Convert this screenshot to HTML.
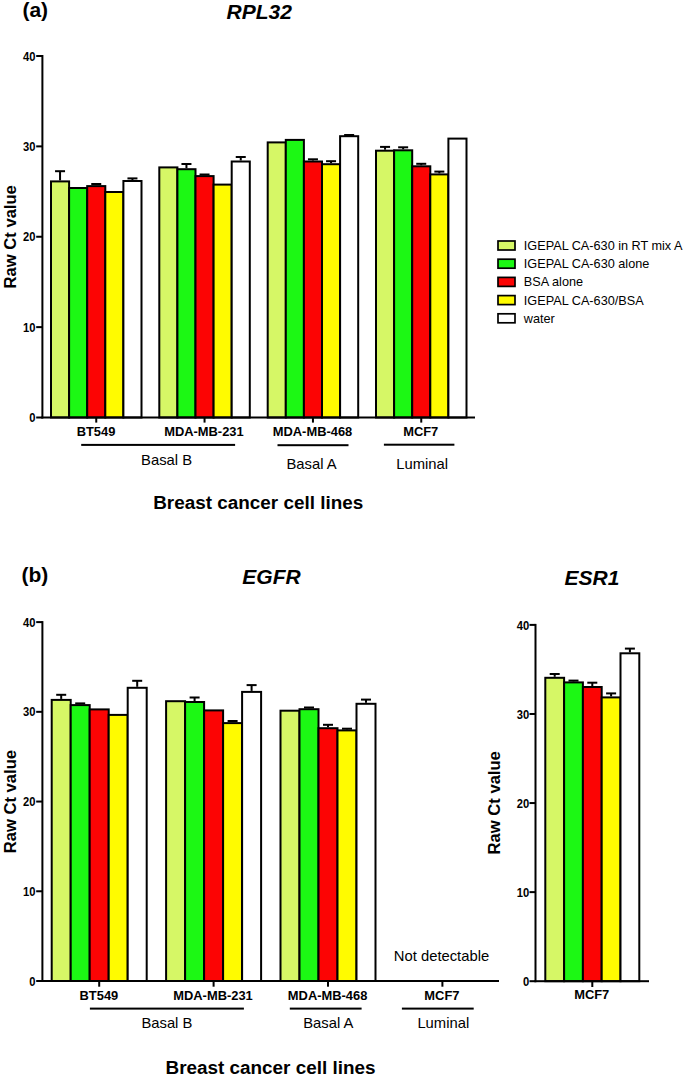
<!DOCTYPE html>
<html><head><meta charset="utf-8"><title>Raw Ct values</title>
<style>
html,body{margin:0;padding:0;background:#fff;width:685px;height:1076px;overflow:hidden;}
svg{display:block;font-family:"Liberation Sans", sans-serif;}
</style></head>
<body>
<svg width="685" height="1076" viewBox="0 0 685 1076">
<rect x="0" y="0" width="685" height="1076" fill="#fff"/>
<text x="22.40" y="17.10" font-size="21" font-weight="bold" font-style="normal" text-anchor="start" >(a)</text>
<text x="259.20" y="19.40" font-size="21" font-weight="bold" font-style="italic" text-anchor="middle" >RPL32</text>
<rect x="41.40" y="55.00" width="2.00" height="363.50" fill="#000"/>
<rect x="36.20" y="55.00" width="6.20" height="2.00" fill="#000"/>
<text transform="translate(35.50 60.60) scale(0.92 1)" font-size="12.2" font-weight="bold" text-anchor="end">40</text>
<rect x="36.20" y="145.38" width="6.20" height="2.00" fill="#000"/>
<text transform="translate(35.50 150.97) scale(0.92 1)" font-size="12.2" font-weight="bold" text-anchor="end">30</text>
<rect x="36.20" y="235.75" width="6.20" height="2.00" fill="#000"/>
<text transform="translate(35.50 241.35) scale(0.92 1)" font-size="12.2" font-weight="bold" text-anchor="end">20</text>
<rect x="36.20" y="326.12" width="6.20" height="2.00" fill="#000"/>
<text transform="translate(35.50 331.73) scale(0.92 1)" font-size="12.2" font-weight="bold" text-anchor="end">10</text>
<rect x="36.20" y="416.50" width="6.20" height="2.00" fill="#000"/>
<text transform="translate(35.50 422.10) scale(0.92 1)" font-size="12.2" font-weight="bold" text-anchor="end">0</text>
<rect x="59.05" y="171.20" width="2.00" height="9.20" fill="#000"/>
<rect x="55.05" y="170.20" width="10.00" height="2.00" fill="#000"/>
<rect x="51.00" y="181.40" width="18.10" height="236.10" fill="#d6f766" stroke="#000" stroke-width="2"/>
<rect x="69.10" y="188.00" width="18.10" height="229.50" fill="#1cf814" stroke="#000" stroke-width="2"/>
<rect x="95.25" y="184.00" width="2.00" height="1.10" fill="#000"/>
<rect x="91.25" y="183.00" width="10.00" height="2.00" fill="#000"/>
<rect x="87.20" y="186.10" width="18.10" height="231.40" fill="#fc0404" stroke="#000" stroke-width="2"/>
<rect x="105.30" y="192.00" width="18.10" height="225.50" fill="#fffb00" stroke="#000" stroke-width="2"/>
<rect x="131.45" y="178.40" width="2.00" height="1.60" fill="#000"/>
<rect x="127.45" y="177.40" width="10.00" height="2.00" fill="#000"/>
<rect x="123.40" y="181.00" width="18.10" height="236.50" fill="#ffffff" stroke="#000" stroke-width="2"/>
<rect x="159.30" y="167.40" width="18.10" height="250.10" fill="#d6f766" stroke="#000" stroke-width="2"/>
<rect x="185.45" y="164.00" width="2.00" height="4.20" fill="#000"/>
<rect x="181.45" y="163.00" width="10.00" height="2.00" fill="#000"/>
<rect x="177.40" y="169.20" width="18.10" height="248.30" fill="#1cf814" stroke="#000" stroke-width="2"/>
<rect x="203.55" y="174.50" width="2.00" height="0.60" fill="#000"/>
<rect x="199.55" y="173.50" width="10.00" height="2.00" fill="#000"/>
<rect x="195.50" y="176.10" width="18.10" height="241.40" fill="#fc0404" stroke="#000" stroke-width="2"/>
<rect x="213.60" y="184.60" width="18.10" height="232.90" fill="#fffb00" stroke="#000" stroke-width="2"/>
<rect x="239.75" y="157.00" width="2.00" height="3.50" fill="#000"/>
<rect x="235.75" y="156.00" width="10.00" height="2.00" fill="#000"/>
<rect x="231.70" y="161.50" width="18.10" height="256.00" fill="#ffffff" stroke="#000" stroke-width="2"/>
<rect x="267.70" y="142.40" width="18.10" height="275.10" fill="#d6f766" stroke="#000" stroke-width="2"/>
<rect x="285.80" y="139.90" width="18.10" height="277.60" fill="#1cf814" stroke="#000" stroke-width="2"/>
<rect x="311.95" y="159.30" width="2.00" height="1.20" fill="#000"/>
<rect x="307.95" y="158.30" width="10.00" height="2.00" fill="#000"/>
<rect x="303.90" y="161.50" width="18.10" height="256.00" fill="#fc0404" stroke="#000" stroke-width="2"/>
<rect x="330.05" y="161.20" width="2.00" height="2.00" fill="#000"/>
<rect x="326.05" y="160.20" width="10.00" height="2.00" fill="#000"/>
<rect x="322.00" y="164.20" width="18.10" height="253.30" fill="#fffb00" stroke="#000" stroke-width="2"/>
<rect x="348.15" y="135.00" width="2.00" height="0.20" fill="#000"/>
<rect x="344.15" y="134.00" width="10.00" height="2.00" fill="#000"/>
<rect x="340.10" y="136.20" width="18.10" height="281.30" fill="#ffffff" stroke="#000" stroke-width="2"/>
<rect x="384.05" y="146.90" width="2.00" height="2.80" fill="#000"/>
<rect x="380.05" y="145.90" width="10.00" height="2.00" fill="#000"/>
<rect x="376.00" y="150.70" width="18.10" height="266.80" fill="#d6f766" stroke="#000" stroke-width="2"/>
<rect x="402.15" y="147.30" width="2.00" height="2.00" fill="#000"/>
<rect x="398.15" y="146.30" width="10.00" height="2.00" fill="#000"/>
<rect x="394.10" y="150.30" width="18.10" height="267.20" fill="#1cf814" stroke="#000" stroke-width="2"/>
<rect x="420.25" y="163.80" width="2.00" height="1.50" fill="#000"/>
<rect x="416.25" y="162.80" width="10.00" height="2.00" fill="#000"/>
<rect x="412.20" y="166.30" width="18.10" height="251.20" fill="#fc0404" stroke="#000" stroke-width="2"/>
<rect x="438.35" y="171.60" width="2.00" height="1.80" fill="#000"/>
<rect x="434.35" y="170.60" width="10.00" height="2.00" fill="#000"/>
<rect x="430.30" y="174.40" width="18.10" height="243.10" fill="#fffb00" stroke="#000" stroke-width="2"/>
<rect x="448.40" y="138.60" width="18.10" height="278.90" fill="#ffffff" stroke="#000" stroke-width="2"/>
<rect x="41.40" y="416.50" width="433.60" height="2.00" fill="#000"/>
<rect x="95.25" y="417.50" width="2.00" height="5.10" fill="#000"/>
<rect x="203.55" y="417.50" width="2.00" height="5.10" fill="#000"/>
<rect x="311.95" y="417.50" width="2.00" height="5.10" fill="#000"/>
<rect x="420.25" y="417.50" width="2.00" height="5.10" fill="#000"/>
<text x="96.00" y="435.70" font-size="12.9" font-weight="bold" font-style="normal" text-anchor="middle" >BT549</text>
<text x="203.90" y="435.70" font-size="12.9" font-weight="bold" font-style="normal" text-anchor="middle" >MDA-MB-231</text>
<text x="312.50" y="435.70" font-size="12.9" font-weight="bold" font-style="normal" text-anchor="middle" >MDA-MB-468</text>
<text x="420.70" y="435.70" font-size="12.9" font-weight="bold" font-style="normal" text-anchor="middle" >MCF7</text>
<rect x="81.20" y="443.90" width="153.90" height="2.00" fill="#000"/>
<rect x="277.50" y="444.20" width="71.00" height="2.00" fill="#000"/>
<rect x="383.90" y="443.70" width="70.50" height="2.00" fill="#000"/>
<text x="166.60" y="464.60" font-size="14.8" font-weight="normal" font-style="normal" text-anchor="middle" >Basal B</text>
<text x="311.50" y="468.90" font-size="14.8" font-weight="normal" font-style="normal" text-anchor="middle" >Basal A</text>
<text x="422.20" y="468.90" font-size="14.8" font-weight="normal" font-style="normal" text-anchor="middle" >Luminal</text>
<text x="258.20" y="509.20" font-size="18.9" font-weight="bold" font-style="normal" text-anchor="middle" >Breast cancer cell lines</text>
<text x="0.00" y="0.00" font-size="16.6" font-weight="bold" font-style="normal" text-anchor="middle" transform="translate(15.9 236.8) rotate(-90)">Raw Ct value</text>
<rect x="498.00" y="241.00" width="17" height="9" fill="#d6f766" stroke="#000" stroke-width="1.7"/>
<text x="523.80" y="250.00" font-size="12.7" font-weight="normal" font-style="normal" text-anchor="start" word-spacing="-0.05">IGEPAL CA-630 in RT mix A</text>
<rect x="498.00" y="259.20" width="17" height="9" fill="#1cf814" stroke="#000" stroke-width="1.7"/>
<text x="523.80" y="268.20" font-size="12.7" font-weight="normal" font-style="normal" text-anchor="start" >IGEPAL CA-630 alone</text>
<rect x="498.00" y="277.40" width="17" height="9" fill="#fc0404" stroke="#000" stroke-width="1.7"/>
<text x="523.80" y="286.40" font-size="12.7" font-weight="normal" font-style="normal" text-anchor="start" >BSA alone</text>
<rect x="498.00" y="295.60" width="17" height="9" fill="#fffb00" stroke="#000" stroke-width="1.7"/>
<text x="523.80" y="304.60" font-size="12.7" font-weight="normal" font-style="normal" text-anchor="start" >IGEPAL CA-630/BSA</text>
<rect x="498.00" y="313.80" width="17" height="9" fill="#ffffff" stroke="#000" stroke-width="1.7"/>
<text x="523.80" y="322.80" font-size="12.7" font-weight="normal" font-style="normal" text-anchor="start" >water</text>
<text x="21.40" y="582.40" font-size="21" font-weight="bold" font-style="normal" text-anchor="start" >(b)</text>
<text x="271.50" y="584.10" font-size="21" font-weight="bold" font-style="italic" text-anchor="middle" >EGFR</text>
<rect x="41.40" y="621.10" width="2.00" height="360.90" fill="#000"/>
<rect x="36.20" y="621.10" width="6.20" height="2.00" fill="#000"/>
<text transform="translate(35.50 626.70) scale(0.92 1)" font-size="12.2" font-weight="bold" text-anchor="end">40</text>
<rect x="36.20" y="710.83" width="6.20" height="2.00" fill="#000"/>
<text transform="translate(35.50 716.43) scale(0.92 1)" font-size="12.2" font-weight="bold" text-anchor="end">30</text>
<rect x="36.20" y="800.55" width="6.20" height="2.00" fill="#000"/>
<text transform="translate(35.50 806.15) scale(0.92 1)" font-size="12.2" font-weight="bold" text-anchor="end">20</text>
<rect x="36.20" y="890.27" width="6.20" height="2.00" fill="#000"/>
<text transform="translate(35.50 895.88) scale(0.92 1)" font-size="12.2" font-weight="bold" text-anchor="end">10</text>
<rect x="36.20" y="980.00" width="6.20" height="2.00" fill="#000"/>
<text transform="translate(35.50 985.60) scale(0.92 1)" font-size="12.2" font-weight="bold" text-anchor="end">0</text>
<rect x="60.20" y="694.80" width="2.00" height="4.10" fill="#000"/>
<rect x="56.20" y="693.80" width="10.00" height="2.00" fill="#000"/>
<rect x="51.70" y="699.90" width="19.00" height="281.10" fill="#d6f766" stroke="#000" stroke-width="2"/>
<rect x="79.20" y="703.40" width="2.00" height="0.70" fill="#000"/>
<rect x="75.20" y="702.40" width="10.00" height="2.00" fill="#000"/>
<rect x="70.70" y="705.10" width="19.00" height="275.90" fill="#1cf814" stroke="#000" stroke-width="2"/>
<rect x="89.70" y="709.40" width="19.00" height="271.60" fill="#fc0404" stroke="#000" stroke-width="2"/>
<rect x="108.70" y="714.90" width="19.00" height="266.10" fill="#fffb00" stroke="#000" stroke-width="2"/>
<rect x="136.20" y="680.80" width="2.00" height="6.00" fill="#000"/>
<rect x="132.20" y="679.80" width="10.00" height="2.00" fill="#000"/>
<rect x="127.70" y="687.80" width="19.00" height="293.20" fill="#ffffff" stroke="#000" stroke-width="2"/>
<rect x="166.10" y="701.20" width="19.00" height="279.80" fill="#d6f766" stroke="#000" stroke-width="2"/>
<rect x="193.60" y="697.50" width="2.00" height="3.50" fill="#000"/>
<rect x="189.60" y="696.50" width="10.00" height="2.00" fill="#000"/>
<rect x="185.10" y="702.00" width="19.00" height="279.00" fill="#1cf814" stroke="#000" stroke-width="2"/>
<rect x="204.10" y="710.40" width="19.00" height="270.60" fill="#fc0404" stroke="#000" stroke-width="2"/>
<rect x="231.60" y="721.00" width="2.00" height="1.10" fill="#000"/>
<rect x="227.60" y="720.00" width="10.00" height="2.00" fill="#000"/>
<rect x="223.10" y="723.10" width="19.00" height="257.90" fill="#fffb00" stroke="#000" stroke-width="2"/>
<rect x="250.60" y="685.10" width="2.00" height="5.80" fill="#000"/>
<rect x="246.60" y="684.10" width="10.00" height="2.00" fill="#000"/>
<rect x="242.10" y="691.90" width="19.00" height="289.10" fill="#ffffff" stroke="#000" stroke-width="2"/>
<rect x="280.50" y="710.70" width="19.00" height="270.30" fill="#d6f766" stroke="#000" stroke-width="2"/>
<rect x="308.00" y="707.50" width="2.00" height="0.70" fill="#000"/>
<rect x="304.00" y="706.50" width="10.00" height="2.00" fill="#000"/>
<rect x="299.50" y="709.20" width="19.00" height="271.80" fill="#1cf814" stroke="#000" stroke-width="2"/>
<rect x="327.00" y="724.80" width="2.00" height="2.40" fill="#000"/>
<rect x="323.00" y="723.80" width="10.00" height="2.00" fill="#000"/>
<rect x="318.50" y="728.20" width="19.00" height="252.80" fill="#fc0404" stroke="#000" stroke-width="2"/>
<rect x="346.00" y="728.70" width="2.00" height="0.70" fill="#000"/>
<rect x="342.00" y="727.70" width="10.00" height="2.00" fill="#000"/>
<rect x="337.50" y="730.40" width="19.00" height="250.60" fill="#fffb00" stroke="#000" stroke-width="2"/>
<rect x="365.00" y="699.60" width="2.00" height="3.20" fill="#000"/>
<rect x="361.00" y="698.60" width="10.00" height="2.00" fill="#000"/>
<rect x="356.50" y="703.80" width="19.00" height="277.20" fill="#ffffff" stroke="#000" stroke-width="2"/>
<rect x="41.40" y="980.00" width="457.60" height="2.00" fill="#000"/>
<rect x="98.20" y="981.00" width="2.00" height="5.70" fill="#000"/>
<rect x="212.60" y="981.00" width="2.00" height="5.70" fill="#000"/>
<rect x="327.00" y="981.00" width="2.00" height="5.70" fill="#000"/>
<rect x="441.40" y="981.00" width="2.00" height="5.70" fill="#000"/>
<text x="98.90" y="999.70" font-size="12.9" font-weight="bold" font-style="normal" text-anchor="middle" >BT549</text>
<text x="213.00" y="999.70" font-size="12.9" font-weight="bold" font-style="normal" text-anchor="middle" >MDA-MB-231</text>
<text x="327.60" y="999.70" font-size="12.9" font-weight="bold" font-style="normal" text-anchor="middle" >MDA-MB-468</text>
<text x="441.90" y="999.70" font-size="12.9" font-weight="bold" font-style="normal" text-anchor="middle" >MCF7</text>
<rect x="89.90" y="1007.60" width="154.00" height="2.00" fill="#000"/>
<rect x="289.80" y="1007.60" width="71.80" height="2.00" fill="#000"/>
<rect x="401.90" y="1007.60" width="71.80" height="2.00" fill="#000"/>
<text x="166.90" y="1028.00" font-size="14.8" font-weight="normal" font-style="normal" text-anchor="middle" >Basal B</text>
<text x="328.30" y="1028.00" font-size="14.8" font-weight="normal" font-style="normal" text-anchor="middle" >Basal A</text>
<text x="443.30" y="1028.00" font-size="14.8" font-weight="normal" font-style="normal" text-anchor="middle" >Luminal</text>
<text x="441.50" y="961.00" font-size="14.8" font-weight="normal" font-style="normal" text-anchor="middle" >Not detectable</text>
<text x="270.50" y="1074.30" font-size="18.9" font-weight="bold" font-style="normal" text-anchor="middle" >Breast cancer cell lines</text>
<text x="0.00" y="0.00" font-size="16.6" font-weight="bold" font-style="normal" text-anchor="middle" transform="translate(15.5 801.6) rotate(-90)">Raw Ct value</text>
<text x="592.00" y="584.80" font-size="21" font-weight="bold" font-style="italic" text-anchor="middle" >ESR1</text>
<rect x="534.50" y="623.90" width="2.00" height="358.30" fill="#000"/>
<rect x="529.50" y="623.90" width="6.00" height="2.00" fill="#000"/>
<text transform="translate(529.30 629.50) scale(0.92 1)" font-size="12.2" font-weight="bold" text-anchor="end">40</text>
<rect x="529.50" y="712.98" width="6.00" height="2.00" fill="#000"/>
<text transform="translate(529.30 718.58) scale(0.92 1)" font-size="12.2" font-weight="bold" text-anchor="end">30</text>
<rect x="529.50" y="802.05" width="6.00" height="2.00" fill="#000"/>
<text transform="translate(529.30 807.65) scale(0.92 1)" font-size="12.2" font-weight="bold" text-anchor="end">20</text>
<rect x="529.50" y="891.12" width="6.00" height="2.00" fill="#000"/>
<text transform="translate(529.30 896.73) scale(0.92 1)" font-size="12.2" font-weight="bold" text-anchor="end">10</text>
<rect x="529.50" y="980.20" width="6.00" height="2.00" fill="#000"/>
<text transform="translate(529.30 985.80) scale(0.92 1)" font-size="12.2" font-weight="bold" text-anchor="end">0</text>
<rect x="553.70" y="674.00" width="2.00" height="2.80" fill="#000"/>
<rect x="549.70" y="673.00" width="10.00" height="2.00" fill="#000"/>
<rect x="545.30" y="677.80" width="18.80" height="303.40" fill="#d6f766" stroke="#000" stroke-width="2"/>
<rect x="572.50" y="680.60" width="2.00" height="0.80" fill="#000"/>
<rect x="568.50" y="679.60" width="10.00" height="2.00" fill="#000"/>
<rect x="564.10" y="682.40" width="18.80" height="298.80" fill="#1cf814" stroke="#000" stroke-width="2"/>
<rect x="591.30" y="682.70" width="2.00" height="3.30" fill="#000"/>
<rect x="587.30" y="681.70" width="10.00" height="2.00" fill="#000"/>
<rect x="582.90" y="687.00" width="18.80" height="294.20" fill="#fc0404" stroke="#000" stroke-width="2"/>
<rect x="610.10" y="693.40" width="2.00" height="3.00" fill="#000"/>
<rect x="606.10" y="692.40" width="10.00" height="2.00" fill="#000"/>
<rect x="601.70" y="697.40" width="18.80" height="283.80" fill="#fffb00" stroke="#000" stroke-width="2"/>
<rect x="628.90" y="648.60" width="2.00" height="3.70" fill="#000"/>
<rect x="624.90" y="647.60" width="10.00" height="2.00" fill="#000"/>
<rect x="620.50" y="653.30" width="18.80" height="327.90" fill="#ffffff" stroke="#000" stroke-width="2"/>
<rect x="534.50" y="980.20" width="114.50" height="2.00" fill="#000"/>
<rect x="591.30" y="981.20" width="2.00" height="5.80" fill="#000"/>
<text x="591.70" y="999.30" font-size="12.9" font-weight="bold" font-style="normal" text-anchor="middle" >MCF7</text>
<text x="0.00" y="0.00" font-size="16.6" font-weight="bold" font-style="normal" text-anchor="middle" transform="translate(500.3 802.8) rotate(-90)">Raw Ct value</text>
</svg>
</body></html>
